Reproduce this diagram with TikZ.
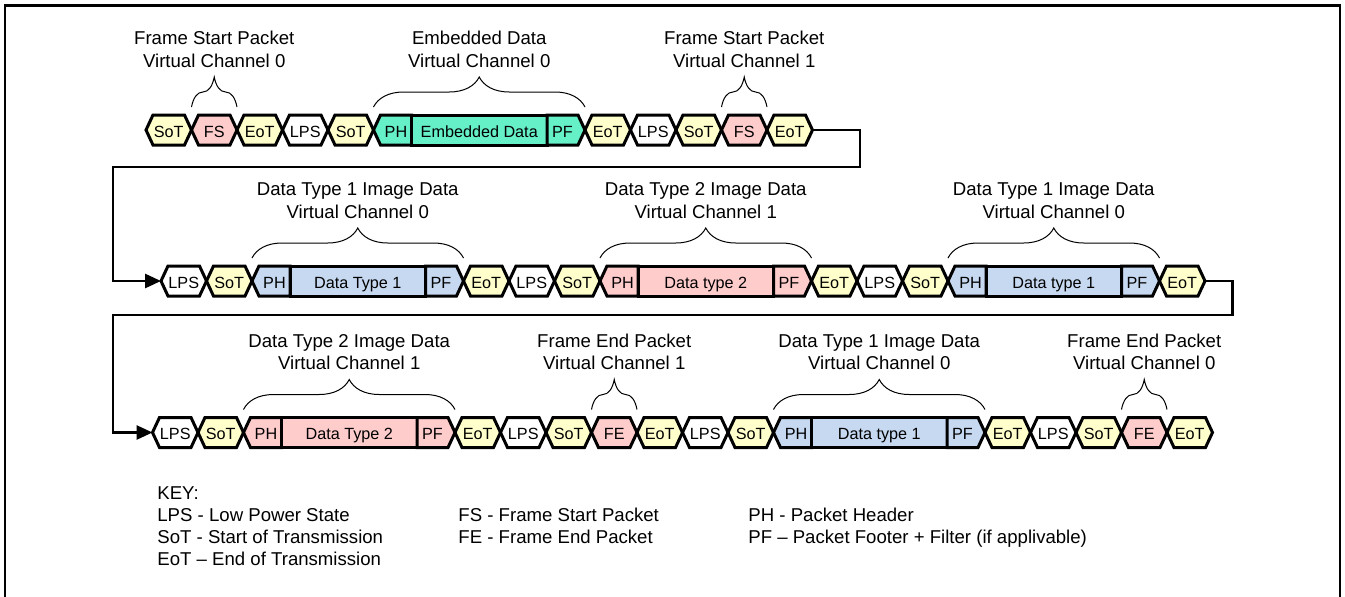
\documentclass[tikz,border=0pt]{standalone}
\usepackage{fontspec}
\setmainfont{Liberation Sans}
\usepackage{xcolor}
\usepackage{tikz}
\usetikzlibrary{arrows.meta,calc,positioning,shapes.symbols,decorations.pathreplacing}
\definecolor{sotyellow}{HTML}{FFFFCC}
\definecolor{fspink}{HTML}{FFCCCC}
\definecolor{embgreen}{HTML}{66F0C8}
\definecolor{dtblue}{HTML}{C6D9F1}
\newcommand{\hexfont}{\fontsize{8.1pt}{9.7pt}\selectfont}
\newcommand{\lblfont}{\fontsize{9.3pt}{11.2pt}\selectfont}
\tikzset{
  hexa/.style={shape=signal, signal to=east and west, signal pointer angle=130,
    draw, line width=1.5pt, minimum width=22.75pt, minimum height=15pt,
    inner sep=0pt, outer sep=0pt, font=\hexfont, text height=1.6ex, text depth=0.22ex},
  lps/.style={hexa, fill=white},
  sot/.style={hexa, fill=sotyellow},
  fsp/.style={hexa, fill=fspink},
  phead/.style={hexa, signal to=west, signal from=nowhere, minimum width=19pt},
  pfoot/.style={hexa, signal to=east, signal from=nowhere, minimum width=19pt},
  pbody/.style={rectangle, draw, line width=1.5pt, minimum width=67.75pt,
    minimum height=15pt, inner sep=0pt, outer sep=0pt, font=\hexfont,
    text height=1.6ex, text depth=0.22ex},
  brace/.style={decorate, decoration={brace, amplitude=15pt}, line width=0.5pt},
  lbl/.style={midway, above=19.5pt, align=center, inner sep=0pt, font=\lblfont},
  flow/.style={line width=1.4pt, -{Triangle[length=8pt,width=7pt]}},
  keytxt/.style={anchor=base west, inner sep=0pt, font=\lblfont}
}

\begin{document}
\begin{tikzpicture}[x=0.5pt,y=-0.5pt]
  \useasboundingbox (0,0) rectangle (1345,596);
  \clip (0,0) rectangle (1345,596);
  \draw[line width=1.3pt] (5,5.5) rectangle (1340,640);

  % row 1
  \node[sot,anchor=west] (r1a) at (146,130) {SoT};
  \node[fsp,right=0pt of r1a] (r1b) {FS};
  \node[sot,right=0pt of r1b] (r1c) {EoT};
  \node[lps,right=0pt of r1c] (r1d) {LPS};
  \node[sot,right=0pt of r1d] (r1e) {SoT};
  \node[phead,fill=embgreen,right=0pt of r1e] (r1f) {PH};
  \node[pbody,fill=embgreen,right=0pt of r1f] (r1g) {Embedded Data};
  \node[pfoot,fill=embgreen,right=0pt of r1g] (r1h) {PF};
  \node[sot,right=0pt of r1h] (r1i) {EoT};
  \node[lps,right=0pt of r1i] (r1j) {LPS};
  \node[sot,right=0pt of r1j] (r1k) {SoT};
  \node[fsp,right=0pt of r1k] (r1l) {FS};
  \node[sot,right=0pt of r1l] (r1m) {EoT};

  % row 2
  \node[lps,anchor=west] (r2a) at (161,281) {LPS};
  \node[sot,right=0pt of r2a] (r2b) {SoT};
  \node[phead,fill=dtblue,right=0pt of r2b] (r2c) {PH};
  \node[pbody,fill=dtblue,right=0pt of r2c] (r2d) {Data Type 1};
  \node[pfoot,fill=dtblue,right=0pt of r2d] (r2e) {PF};
  \node[sot,right=0pt of r2e] (r2f) {EoT};
  \node[lps,right=0pt of r2f] (r2g) {LPS};
  \node[sot,right=0pt of r2g] (r2h) {SoT};
  \node[phead,fill=fspink,right=0pt of r2h] (r2i) {PH};
  \node[pbody,fill=fspink,right=0pt of r2i] (r2j) {Data type 2};
  \node[pfoot,fill=fspink,right=0pt of r2j] (r2k) {PF};
  \node[sot,right=0pt of r2k] (r2l) {EoT};
  \node[lps,right=0pt of r2l] (r2m) {LPS};
  \node[sot,right=0pt of r2m] (r2n) {SoT};
  \node[phead,fill=dtblue,right=0pt of r2n] (r2o) {PH};
  \node[pbody,fill=dtblue,right=0pt of r2o] (r2p) {Data type 1};
  \node[pfoot,fill=dtblue,right=0pt of r2p] (r2q) {PF};
  \node[sot,right=0pt of r2q] (r2r) {EoT};

  % row 3
  \node[lps,anchor=west] (r3a) at (152.5,432.5) {LPS};
  \node[sot,right=0pt of r3a] (r3b) {SoT};
  \node[phead,fill=fspink,right=0pt of r3b] (r3c) {PH};
  \node[pbody,fill=fspink,right=0pt of r3c] (r3d) {Data Type 2};
  \node[pfoot,fill=fspink,right=0pt of r3d] (r3e) {PF};
  \node[sot,right=0pt of r3e] (r3f) {EoT};
  \node[lps,right=0pt of r3f] (r3g) {LPS};
  \node[sot,right=0pt of r3g] (r3h) {SoT};
  \node[fsp,right=0pt of r3h] (r3i) {FE};
  \node[sot,right=0pt of r3i] (r3j) {EoT};
  \node[lps,right=0pt of r3j] (r3k) {LPS};
  \node[sot,right=0pt of r3k] (r3l) {SoT};
  \node[phead,fill=dtblue,right=0pt of r3l] (r3m) {PH};
  \node[pbody,fill=dtblue,right=0pt of r3m] (r3n) {Data type 1};
  \node[pfoot,fill=dtblue,right=0pt of r3n] (r3o) {PF};
  \node[sot,right=0pt of r3o] (r3p) {EoT};
  \node[lps,right=0pt of r3p] (r3q) {LPS};
  \node[sot,right=0pt of r3q] (r3r) {SoT};
  \node[fsp,right=0pt of r3r] (r3s) {FE};
  \node[sot,right=0pt of r3s] (r3t) {EoT};

  % braces and labels
  \draw[brace] ($(r1b.west |- r1b.north)+(0,4pt)$) -- node[lbl] (l1a) {Frame Start Packet\\Virtual Channel 0} ($(r1b.east |- r1b.north)+(0,4pt)$);
  \draw[brace] ($(r1f.west |- r1f.north)+(0,4pt)$) -- node[lbl] (l1b) {Embedded Data\\Virtual Channel 0} ($(r1h.east |- r1h.north)+(0,4pt)$);
  \draw[brace] ($(r1l.west |- r1l.north)+(0,4pt)$) -- node[lbl] (l1c) {Frame Start Packet\\Virtual Channel 1} ($(r1l.east |- r1l.north)+(0,4pt)$);
  \draw[brace] ($(r2c.west |- r2c.north)+(0,4pt)$) -- node[lbl] (l2a) {Data Type 1 Image Data\\Virtual Channel 0} ($(r2e.east |- r2e.north)+(0,4pt)$);
  \draw[brace] ($(r2i.west |- r2i.north)+(0,4pt)$) -- node[lbl] (l2b) {Data Type 2 Image Data\\Virtual Channel 1} ($(r2k.east |- r2k.north)+(0,4pt)$);
  \draw[brace] ($(r2o.west |- r2o.north)+(0,4pt)$) -- node[lbl] (l2c) {Data Type 1 Image Data\\Virtual Channel 0} ($(r2q.east |- r2q.north)+(0,4pt)$);
  \draw[brace] ($(r3c.west |- r3c.north)+(0,4pt)$) -- node[lbl] (l3a) {Data Type 2 Image Data\\Virtual Channel 1} ($(r3e.east |- r3e.north)+(0,4pt)$);
  \draw[brace] ($(r3i.west |- r3i.north)+(0,4pt)$) -- node[lbl] (l3b) {Frame End Packet\\Virtual Channel 1} ($(r3i.east |- r3i.north)+(0,4pt)$);
  \draw[brace] ($(r3m.west |- r3m.north)+(0,4pt)$) -- node[lbl] (l3c) {Data Type 1 Image Data\\Virtual Channel 0} ($(r3o.east |- r3o.north)+(0,4pt)$);
  \draw[brace] ($(r3s.west |- r3s.north)+(0,4pt)$) -- node[lbl] (l3d) {Frame End Packet\\Virtual Channel 0} ($(r3s.east |- r3s.north)+(0,4pt)$);

  % row to row
  \coordinate (c1) at (860,167);
  \coordinate (c2) at (113,167);
  \coordinate (c3) at (1232.5,315);
  \coordinate (c4) at (113,315);
  \draw[flow] (r1m.east) -| (c1) -- (c2) |- (r2a.west);
  \draw[flow] (r2r.east) -| (c3) -- (c4) |- (r3a.west);

  % key
  \node[keytxt] (k1) at (157,499) {KEY:};
  \node[keytxt] (k2) at (157,521) {LPS - Low Power State};
  \node[keytxt] (k3) at (157,543.5) {SoT - Start of Transmission};
  \node[keytxt] (k4) at (157,565.5) {EoT -- End of Transmission};
  \node[keytxt] (k5) at (458,521) {FS - Frame Start Packet};
  \node[keytxt] (k6) at (458,543.5) {FE - Frame End Packet};
  \node[keytxt] (k7) at (748,521) {PH - Packet Header};
  \node[keytxt] (k8) at (748,543.5) {PF -- Packet Footer + Filter (if applivable)};
\end{tikzpicture}
\end{document}
